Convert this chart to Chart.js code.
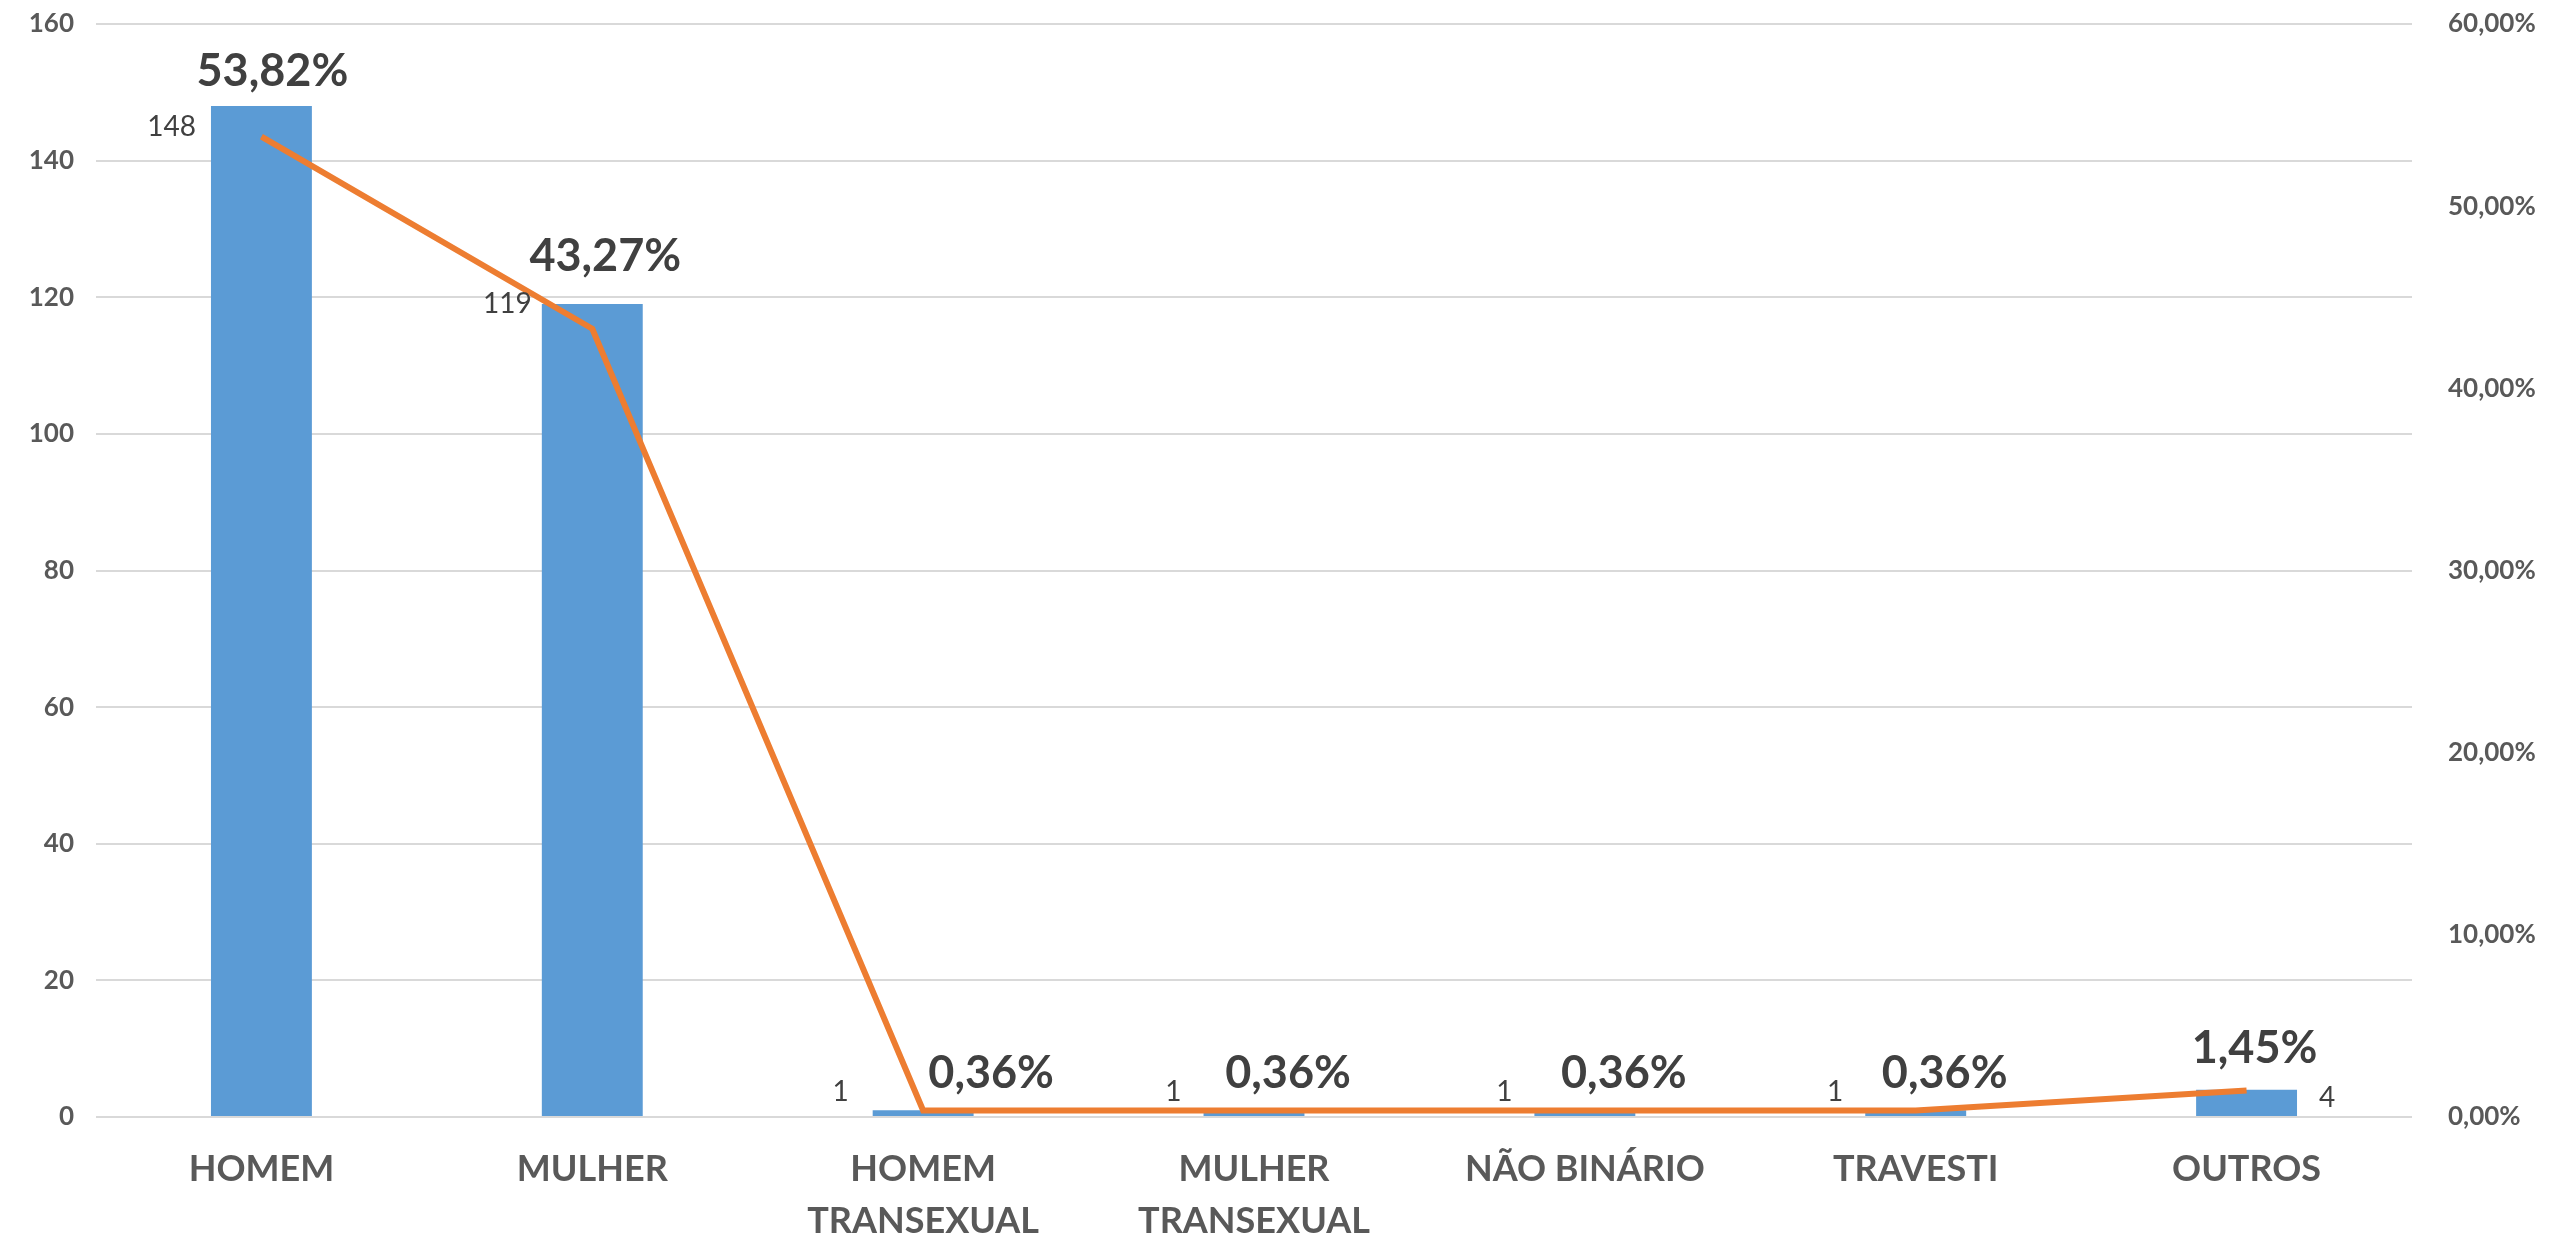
<!DOCTYPE html>
<html>
<head>
<meta charset="utf-8">
<script src="https://cdn.jsdelivr.net/npm/chart.js@4"></script>
<style>
  html, body { margin: 0; padding: 0; background: #fff; }
  #wrap { width: 2552px; height: 1244px; }
</style>
</head>
<body>
<div id="wrap"><canvas id="genderChart" width="2552" height="1244"></canvas></div>
<script>
const categories = [
    'HOMEM',
    'MULHER',
    ['HOMEM', 'TRANSEXUAL'],
    ['MULHER', 'TRANSEXUAL'],
    'NÃO BINÁRIO',
    'TRAVESTI',
    'OUTROS'
];
const counts = [148, 119, 1, 1, 1, 1, 4];
const percents = [53.82, 43.27, 0.36, 0.36, 0.36, 0.36, 1.45];
const countTicks = [0, 20, 40, 60, 80, 100, 120, 140, 160];
const percentTicks = [0, 10, 20, 30, 40, 50, 60];

const FONT = "Lato, 'Open Sans', sans-serif";

function pctText(v) {
    return v.toFixed(2).replace('.', ',') + '%';
}

// labels: counts beside the bars, percentages over the line points
const labelPlugin = {
    id: 'labels',
    afterDatasetsDraw(chart) {
        const ctx = chart.ctx;
        const bars = chart.getDatasetMeta(0).data;
        const pts = chart.getDatasetMeta(1).data;
        const countDy = [21, 0, -18, -18, -18, -18, 8];
        const countGap = [15, 10, 24, 22, 22, 22, 22];
        const pctDx = [11, 13, 68, 34, 39, 29, 8];
        const pctDy = [-65, -72, -37, -37, -37, -37, -42];

        ctx.save();
        ctx.textBaseline = 'middle';
        ctx.font = '28px ' + FONT;
        ctx.fillStyle = '#404040';
        bars.forEach((bar, i) => {
            const half = bar.width / 2;
            if (i === bars.length - 1) {
                ctx.textAlign = 'left';
                ctx.fillText(String(counts[i]), bar.x + half + countGap[i], bar.y + countDy[i]);
            } else {
                ctx.textAlign = 'right';
                ctx.fillText(String(counts[i]), bar.x - half - countGap[i], bar.y + countDy[i]);
            }
        });

        ctx.font = 'bold 45px ' + FONT;
        ctx.textAlign = 'center';
        pts.forEach((p, i) => {
            ctx.fillText(pctText(percents[i]), p.x + pctDx[i], p.y + pctDy[i]);
        });
        ctx.restore();
    }
};

function fixVertical(width) {
    return function (scale) {
        scale.width = width;
        scale.paddingTop = 0;
        scale.paddingBottom = 0;
    };
}

const ctx = document.getElementById('genderChart').getContext('2d');
const chart = new Chart(ctx, {
    type: 'bar',
    data: {
        labels: categories,
        datasets: [{
            type: 'bar',
            label: 'Quantidade',
            data: counts,
            backgroundColor: '#5B9BD5',
            barPercentage: 0.305,
            categoryPercentage: 1,
            yAxisID: 'y',
            order: 2
        }, {
            type: 'line',
            label: 'Percentual',
            data: percents,
            borderColor: '#ED7D31',
            borderWidth: 6,
            pointRadius: 0,
            tension: 0,
            yAxisID: 'y1',
            order: 1
        }]
    },
    options: {
        responsive: false,
        animation: false,
        layout: { padding: { top: 24, left: 0, right: 0, bottom: 0 } },
        plugins: {
            legend: { display: false },
            tooltip: { enabled: false }
        },
        scales: {
            x: {
                grid: { display: false },
                border: { display: false },
                ticks: {
                    color: '#595959',
                    font: { family: FONT, size: 36, weight: 'bold', lineHeight: 1.45 },
                    padding: 18,
                    maxRotation: 0,
                    autoSkip: false
                },
                afterFit(scale) {
                    scale.height = 127;
                    scale.paddingLeft = 0;
                    scale.paddingRight = 0;
                }
            },
            y: {
                position: 'left',
                min: 0,
                max: 160,
                afterBuildTicks(scale) { scale.ticks = countTicks.map(v => ({ value: v })); },
                grid: { color: '#D9D9D9', lineWidth: 2, drawTicks: false },
                border: { display: false },
                ticks: {
                    color: '#595959',
                    font: { family: FONT, size: 26, weight: 'bold' },
                    padding: 22
                },
                afterFit: fixVertical(96)
            },
            y1: {
                position: 'right',
                min: 0,
                max: 60,
                afterBuildTicks(scale) { scale.ticks = percentTicks.map(v => ({ value: v })); },
                grid: { display: false },
                border: { display: false },
                ticks: {
                    color: '#595959',
                    font: { family: FONT, size: 26, weight: 'bold' },
                    padding: 28,
                    callback: v => pctText(v)
                },
                afterFit: fixVertical(140)
            }
        }
    },
    plugins: [labelPlugin]
});
</script>
</body>
</html>
